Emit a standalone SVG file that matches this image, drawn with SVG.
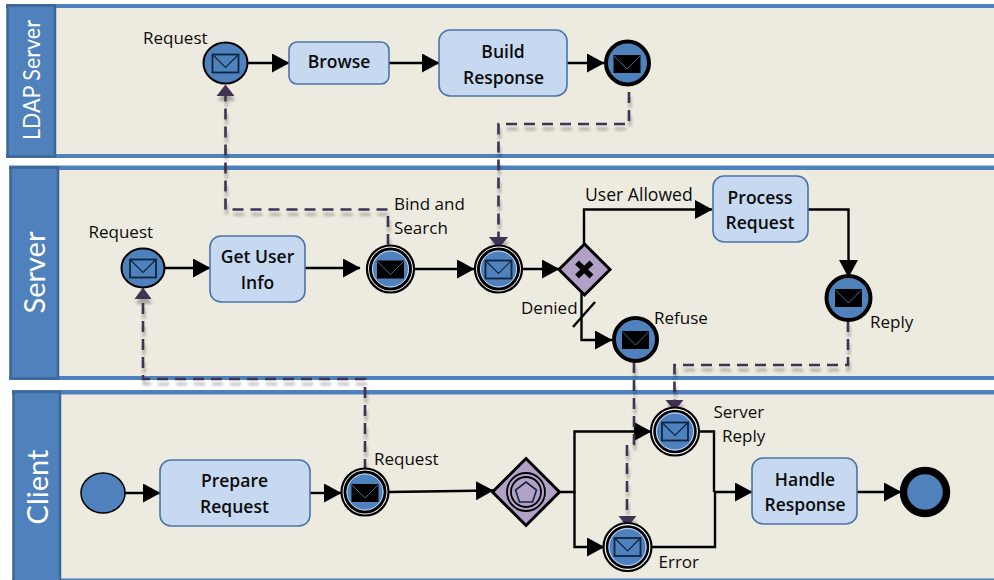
<svg xmlns="http://www.w3.org/2000/svg" xmlns:xlink="http://www.w3.org/1999/xlink" width="994" height="580" viewBox="0 0 994 580">
<style>
.body{fill:#edebe0}
.bar{fill:#4f81bd}
.hdr{fill:#4f81bd;stroke:#3d6797;stroke-width:2.5}
.title{font-family:"Lato","Open Sans",sans-serif;font-size:30px;fill:#fff;text-anchor:middle}
.task{fill:#c6d9f1;stroke:#4a74a8;stroke-width:1.6}
.t{font-family:"Open Sans","Noto Sans",sans-serif;font-size:17.5px;font-weight:600;fill:#0b0b0b;text-anchor:middle}
.l{font-family:"Open Sans","Noto Sans",sans-serif;font-size:17px;font-weight:500;fill:#0b0b0b}
.ev{fill:#4f81bd;stroke:#000}
.gw{fill:#b2a1c7;stroke:#000;stroke-width:3;stroke-linejoin:miter}
.seq{fill:none;stroke:#000;stroke-width:2.4}
.msg{fill:none;stroke:#403152;stroke-width:2.6;stroke-dasharray:11 7}
.ring{fill:none;stroke:#000}
.hl{fill:none;stroke:#c6d9f1;stroke-width:1}
</style>
<defs>
<marker id="a" markerUnits="userSpaceOnUse" markerWidth="19" markerHeight="20" refX="17" refY="9.500" orient="auto"><path d="M0 0L17.500 9.500L0 19Z" fill="#000"/></marker>
<filter id="sh" x="-10%" y="-10%" width="120%" height="120%" filterUnits="objectBoundingBox"><feGaussianBlur in="SourceAlpha" stdDeviation="1.6"/><feOffset dx="1" dy="5"/><feComponentTransfer result="s"><feFuncA type="linear" slope="0.3"/></feComponentTransfer><feMerge><feMergeNode in="s"/><feMergeNode in="SourceGraphic"/></feMerge></filter>
<g id="envB"><rect x="-13" y="-9" width="26" height="18" fill="#4f81bd" stroke="#10253f" stroke-width="1.8"/><path d="M-13 -9L0 4L13 -9" fill="none" stroke="#10253f" stroke-width="1.2"/></g>
<g id="envK"><rect x="-13.500" y="-9" width="27" height="18" fill="#000"/><path d="M-13 -8L0 5L13 -8" fill="none" stroke="#4f81bd" stroke-width="0.8"/></g>
</defs>

<g id="lane-ldap">
<rect x="56" y="6" width="938" height="150" class="body"/>
<rect x="6" y="4" width="988" height="4" class="bar"/><rect x="6" y="154" width="988" height="4" class="bar"/>
<rect x="7.500" y="5.500" width="47.500" height="151" class="hdr"/>
<text class="title" style="font-size:24px" textLength="120" lengthAdjust="spacingAndGlyphs" transform="translate(39.500,80) rotate(-90)">LDAP Server</text>
</g>
<g id="lane-server">
<rect x="59" y="168" width="935" height="210" class="body"/>
<rect x="9" y="165.500" width="985" height="4.500" class="bar"/><rect x="9" y="376" width="985" height="4" class="bar"/>
<rect x="10.500" y="167.500" width="47.500" height="211" class="hdr"/>
<text class="title" style="font-size:29px" transform="translate(45,272.500) rotate(-90)">Server</text>
</g>
<g id="lane-client">
<rect x="61" y="392" width="933" height="187" class="body"/>
<rect x="12" y="390" width="982" height="4.500" class="bar"/><rect x="12" y="578.500" width="982" height="1.500" class="bar"/>
<rect x="13.500" y="392" width="46.500" height="190" class="hdr"/>
<text class="title" style="font-size:29px" transform="translate(47.500,487) rotate(-90)">Client</text>
</g>

<g id="connectors">
<g class="seqs">
<path class="seq" marker-end="url(#a)" d="M247 63H289"/>
<path class="seq" marker-end="url(#a)" d="M389 63H439"/>
<path class="seq" marker-end="url(#a)" d="M567 63H604"/>
<path class="seq" marker-end="url(#a)" d="M165 268H210"/>
<path class="seq" marker-end="url(#a)" d="M305 268H360"/>
<path class="seq" marker-end="url(#a)" d="M414 269H474"/>
<path class="seq" marker-end="url(#a)" d="M522 269H559"/>
<path class="seq" marker-end="url(#a)" d="M584 245V209.500H712"/>
<path class="seq" marker-end="url(#a)" d="M808 209.500H848.500V277"/>
<path class="seq" marker-end="url(#a)" d="M581.500 293V340H612"/>
<path class="seq" d="M573 327L595 302"/>
<path class="seq" marker-end="url(#a)" d="M125 493H160"/>
<path class="seq" marker-end="url(#a)" d="M310 493H341"/>
<path class="seq" marker-end="url(#a)" d="M389 492L493 490.500"/>
<path class="seq" marker-end="url(#a)" d="M559 492H574.500V431.500H651"/>
<path class="seq" marker-end="url(#a)" d="M574.500 492V547H604"/>
<path class="seq" d="M699 431.500H714V492"/>
<path class="seq" d="M652 547H715V492"/>
<path class="seq" marker-end="url(#a)" d="M714 492H752"/>
<path class="seq" marker-end="url(#a)" d="M857 492H901"/>
</g>
<g class="msgs" filter="url(#sh)">
<path class="msg" d="M388 245V209.500H225.500V95"/>
<path d="M216.500 96L225.500 84.500L234.500 96Z" fill="#403152"/>
<path class="msg" d="M629 92V124H498.500V238"/>
<path d="M489 237H508L498.500 249Z" fill="#403152"/>
<path class="msg" d="M365 470V379H143V298"/>
<path d="M134.500 299L143 287.500L151.500 299Z" fill="#403152"/>
<path class="msg" d="M848 321V365H674.500V401"/>
<path d="M665.500 400H683.500L674.500 411Z" fill="#403152"/>
<path class="msg" d="M634 362V444H627V517"/>
<path d="M618.500 516H636.500L627.500 527Z" fill="#403152"/>
</g>
</g>

<g id="n-ldap-request"><ellipse cx="225.500" cy="63" rx="22" ry="20.500" class="ev" stroke-width="2"/><use xlink:href="#envB" x="225.500" y="63.500"/></g>
<g id="n-browse"><rect x="289" y="42" width="100" height="42" rx="8" class="task"/><text class="t" x="339" y="68">Browse</text></g>
<g id="n-build"><rect x="439" y="30" width="128" height="66" rx="11" class="task"/><text class="t" x="503" y="58">Build</text><text class="t" x="503.500" y="84">Response</text></g>
<g id="n-ldap-end"><circle cx="627.500" cy="63" r="21.500" class="ev" stroke-width="4"/><use xlink:href="#envK" x="627" y="64"/></g>

<g id="n-server-request"><ellipse cx="143" cy="268" rx="21.500" ry="19.500" class="ev" stroke-width="2"/><use xlink:href="#envB" x="143" y="268.500"/></g>
<g id="n-getuser"><rect x="210" y="236" width="95" height="66" rx="11" class="task"/><text class="t" x="257.500" y="263">Get User</text><text class="t" x="257.500" y="289">Info</text></g>
<g id="n-bind"><circle cx="390.500" cy="269" r="23.500" fill="#fff" stroke="#000" stroke-width="2.200"/><circle cx="390.500" cy="269" r="20" class="ev" stroke-width="3"/><circle cx="390.500" cy="269" r="18" class="hl"/><use xlink:href="#envK" x="390.500" y="269.500"/></g>
<g id="n-catch"><circle cx="498.500" cy="269" r="23.500" fill="#fff" stroke="#000" stroke-width="2.200"/><circle cx="498.500" cy="269" r="20" class="ev" stroke-width="3"/><circle cx="498.500" cy="269" r="18" class="hl"/><use xlink:href="#envB" x="498.500" y="269.500"/></g>
<g id="n-xgw"><path d="M584.500 244L610 269.500L584.500 295L559 269.500Z" class="gw"/><path d="M577 262.500L591.500 276.500M591.500 262.500L577 276.500" stroke="#000" stroke-width="5.500" fill="none"/></g>
<g id="n-process"><rect x="713" y="176" width="95" height="66" rx="11" class="task"/><text class="t" x="760" y="204">Process</text><text class="t" x="760" y="229">Request</text></g>
<g id="n-reply"><circle cx="848.500" cy="298" r="22" class="ev" stroke-width="4"/><use xlink:href="#envK" x="848.500" y="298"/></g>
<g id="n-refuse"><circle cx="635.500" cy="339.500" r="21.500" class="ev" stroke-width="4"/><use xlink:href="#envK" x="635.500" y="340"/></g>

<g id="n-start"><ellipse cx="103" cy="493" rx="22" ry="20" class="ev" stroke-width="1.500" stroke="#222"/></g>
<g id="n-prepare"><rect x="160" y="460" width="150" height="66" rx="11" class="task"/><text class="t" x="234.500" y="487">Prepare</text><text class="t" x="234.500" y="513">Request</text></g>
<g id="n-client-request"><circle cx="365" cy="492" r="23.500" fill="#fff" stroke="#000" stroke-width="2.200"/><circle cx="365" cy="492" r="20" class="ev" stroke-width="3"/><circle cx="365" cy="492" r="18" class="hl"/><use xlink:href="#envK" x="365" y="493"/></g>
<g id="n-evgw"><path d="M526 458.500L559.500 492L526 525.500L492.500 492Z" class="gw"/><circle cx="526" cy="492" r="19" class="ring" stroke-width="1.800"/><circle cx="526" cy="492" r="15" class="ring" stroke-width="1.800"/><path d="M526 482L536.500 490L532.500 502H519.500L515.500 490Z" fill="none" stroke="#10253f" stroke-width="1.600"/></g>
<g id="n-serverreply"><circle cx="675" cy="431.500" r="24" fill="#fff" stroke="#000" stroke-width="2.200"/><circle cx="675" cy="431.500" r="20.500" class="ev" stroke-width="2.500"/><circle cx="675" cy="431.500" r="18.500" class="hl"/><use xlink:href="#envB" x="675" y="431.500"/></g>
<g id="n-error"><circle cx="627.500" cy="547" r="24" fill="#fff" stroke="#000" stroke-width="2.200"/><circle cx="627.500" cy="547" r="20.500" class="ev" stroke-width="2.500"/><circle cx="627.500" cy="547" r="18.500" class="hl"/><use xlink:href="#envB" x="627.500" y="547"/></g>
<g id="n-handle"><rect x="752" y="458" width="105" height="66" rx="11" class="task"/><text class="t" x="805" y="486">Handle</text><text class="t" x="805" y="511">Response</text></g>
<g id="n-end"><circle cx="925" cy="492" r="21.500" class="ev" stroke-width="7.500"/></g>

<g id="labels">
<text class="l" x="143" y="44">Request</text>
<text class="l" x="88.500" y="238">Request</text>
<text class="l" x="394" y="210">Bind and</text>
<text class="l" x="394" y="234">Search</text>
<text class="l" x="585" y="201" style="font-size:17.6px">User Allowed</text>
<text class="l" x="521" y="314">Denied</text>
<text class="l" x="654" y="324">Refuse</text>
<text class="l" x="870" y="328">Reply</text>
<text class="l" x="374" y="465">Request</text>
<text class="l" x="713.500" y="418">Server</text>
<text class="l" x="722" y="442">Reply</text>
<text class="l" x="658.500" y="568">Error</text>
</g>
</svg>
